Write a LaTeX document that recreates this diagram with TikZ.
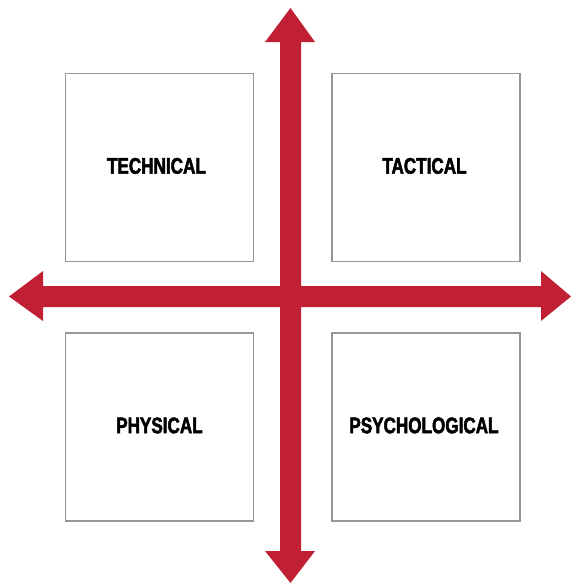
\documentclass[tikz,border=0pt]{standalone}
\usepackage{fontspec}
\newfontfamily\labfont[FakeStretch=0.76,FakeBold=2.2]{Liberation Sans}
\definecolor{arrowred}{RGB}{193,31,52}
\definecolor{boxgray}{RGB}{150,150,150}
\begin{document}
\begin{tikzpicture}[x=1pt,y=-1pt,
  quad/.style={draw=boxgray,line width=1.9pt,fill=white,minimum width=188pt,minimum height=188pt,inner sep=0pt,anchor=north west},
  lab/.style={font=\labfont\bfseries\fontsize{22.5}{22.5}\selectfont,text=black,inner sep=0pt},
  bigarrow/.style={fill=arrowred,draw=none}]
\useasboundingbox (0,0) rectangle (571,584);
\node[quad] (tl) at (64.5,72.5) {};
\node[quad] (tr) at (331,72.5) {};
\node[quad] (bl) at (64.5,332) {};
\node[quad] (br) at (331,332) {};
\node[lab] (tlt) at ([xshift=-3pt,yshift=1.5pt]tl.center) {TECHNICAL};
\node[lab] (trt) at ([xshift=-1.5pt,yshift=1.5pt]tr.center) {TACTICAL};
\node[lab] (blt) at ([xshift=0pt,yshift=1.5pt]bl.center) {PHYSICAL};
\node[lab] (brt) at ([xshift=-2pt,yshift=1.5pt]br.center) {PSYCHOLOGICAL};
% vertical double arrow
\fill[bigarrow] (290.5,8) -- (315,42) -- (301,42) -- (301,551) -- (315,551)
  -- (290.5,583) -- (265,551) -- (280,551) -- (280,42) -- (265,42) -- cycle;
% horizontal double arrow
\fill[bigarrow] (9,296.5) -- (43,271) -- (43,286) -- (541,286) -- (541,271)
  -- (571,296.5) -- (541,321) -- (541,307) -- (43,307) -- (43,321) -- cycle;
\end{tikzpicture}
\end{document}
